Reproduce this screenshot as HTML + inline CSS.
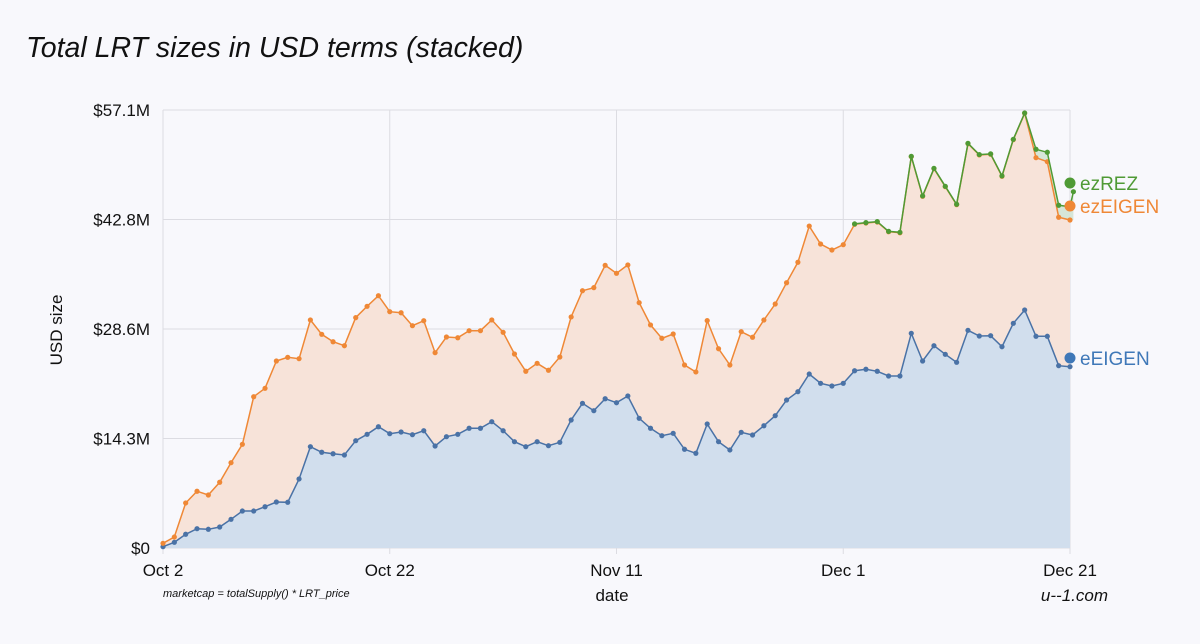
<!DOCTYPE html>
<html><head><meta charset="utf-8"><style>
body{margin:0;background:#f8f8fc;}
svg{display:block;font-family:"Liberation Sans",Arial,sans-serif;}
</style></head><body>
<svg id="c" width="1200" height="644">
<rect width="1200" height="644" fill="#f8f8fc"/>
<text x="26" y="57" font-size="28.5" font-style="italic" fill="#111">Total LRT sizes in USD terms (stacked)</text>
<g id="grid"></g>
<g id="areas"></g>
<g id="lines"></g>
<g id="axes"></g>
<text transform="translate(62,330) rotate(-90)" text-anchor="middle" font-size="17" fill="#111">USD size</text>
<text x="612" y="601" text-anchor="middle" font-size="17" fill="#111">date</text>
<text x="163" y="597" font-size="11" font-style="italic" fill="#111">marketcap = totalSupply() * LRT_price</text>
<text x="1108" y="601" text-anchor="end" font-size="17" font-style="italic" fill="#111">u--1.com</text>
</svg>
<script>
const yTicks=[0,14.275,28.55,42.825,57.1];
const yTickLabels=["$0","$14.3M","$28.6M","$42.8M","$57.1M"];
const xTickDays=[0,20,40,60,80];
const xTickLabels=["Oct 2","Oct 22","Nov 11","Dec 1","Dec 21"];
const eEIGEN=[0.17,0.74,1.79,2.52,2.44,2.74,3.74,4.82,4.82,5.38,6.00,5.96,9.00,13.21,12.48,12.29,12.12,13.99,14.82,15.81,14.90,15.12,14.77,15.29,13.30,14.51,14.82,15.61,15.61,16.47,15.29,13.86,13.21,13.86,13.34,13.78,16.69,18.86,17.90,19.46,18.94,19.82,16.91,15.61,14.64,14.95,12.87,12.35,16.17,13.86,12.78,15.08,14.73,15.94,17.25,19.29,20.38,22.68,21.47,21.12,21.47,23.11,23.30,23.04,22.42,22.42,27.99,24.38,26.37,25.25,24.21,28.38,27.64,27.68,26.24,29.29,31.03,27.60,27.60,23.77,23.64];
const ezEIGEN=[0.44,0.69,4.08,4.88,4.47,5.83,7.38,8.70,14.90,15.44,18.38,18.90,15.68,16.52,15.38,14.60,14.25,16.04,16.69,17.08,15.91,15.55,14.21,14.34,12.16,13.00,12.59,12.72,12.72,13.26,12.83,11.43,9.83,10.22,9.83,11.12,13.43,14.68,16.04,17.39,16.87,17.08,15.07,13.47,12.70,12.95,10.99,10.60,13.47,12.12,11.08,13.12,12.74,13.78,14.56,15.29,16.87,19.29,18.16,17.73,18.07,19.09,19.07,19.46,18.81,18.68,23.02,21.47,23.08,21.85,20.55,24.33,23.60,23.65,22.22,23.94,25.64,23.28,22.76,19.35,19.12];
const rezDays=[61,62,63,64,65,66,67,68,69,70,71,72,73,74,75,76,77,78,79,80,80.3];
const ezREZ=[0.05,0.05,0.05,0.05,0.05,0.05,0.05,0.05,0.05,0.05,0.05,0.05,0.05,0.05,0.05,0.05,1.10,1.23,1.56,1.73,3.69];

const NS="http://www.w3.org/2000/svg";
const X0=163,X1=1070,Y0=548,Y1=110,DAYS=80,YMAX=57.1;
const x=d=>X0+d*(X1-X0)/DAYS;
const y=v=>Y0-v*(Y0-Y1)/YMAX;
function mk(tag,parent,attrs){const e=document.createElementNS(NS,tag);for(const k in attrs)e.setAttribute(k,attrs[k]);parent.appendChild(e);return e;}
const grid=document.getElementById('grid'),areas=document.getElementById('areas'),lines=document.getElementById('lines'),axes=document.getElementById('axes');

yTicks.forEach((t,i)=>{
  const l=mk('line',grid,{x1:X0,x2:X1,y1:y(t),y2:y(t),stroke:'#dcdce2','stroke-width':1});
  
  
  const tx=mk('text',axes,{x:150,y:y(t)+6,'text-anchor':'end','font-size':17,fill:'#111'});
  tx.textContent=yTickLabels[i];
  
  
});
xTickDays.forEach((d,i)=>{
  const l=mk('line',grid,{x1:x(d),x2:x(d),y1:Y1,y2:Y0+6,stroke:'#dcdce2','stroke-width':1});
  
  
  const tx=mk('text',axes,{x:x(d),y:576,'text-anchor':'middle','font-size':17,fill:'#111'});
  tx.textContent=xTickLabels[i];
  
  
});

const days=eEIGEN.map((_,i)=>i);
const orangeTop=eEIGEN.map((v,i)=>v+ezEIGEN[i]);
function baseAt(d){return orangeTop[Math.min(Math.floor(d),orangeTop.length-1)];}
const rezTop=rezDays.map((d,i)=>baseAt(d)+ezREZ[i]);
const rezBase=rezDays.map(d=>baseAt(d));

function pts(ds,vs){return ds.map((d,i)=>x(d).toFixed(1)+','+y(vs[i]).toFixed(1));}
const aB=mk('polygon',areas,{points:pts(days,eEIGEN).concat([x(80)+','+Y0,X0+','+Y0]).join(' '),fill:'#d1deed'});


const aO=mk('polygon',areas,{points:pts(days,orangeTop).concat(pts(days,eEIGEN).reverse()).join(' '),fill:'#f7e3d9'});


const aG=mk('polygon',areas,{points:pts(rezDays,rezTop).concat(pts(rezDays,rezBase).reverse()).join(' '),fill:'#d6e6d8'});



function series(ds,vs,color,name){
  const p=mk('polyline',lines,{points:pts(ds,vs).join(' '),fill:'none',stroke:color,'stroke-width':1.5});
  
  
  ds.forEach((d,i)=>{
    const c=mk('circle',lines,{cx:x(d),cy:y(vs[i]),r:2.6,fill:color});
    
    
  });
}
series(days,eEIGEN,'#4a72a6','eeigen');
series(days,orangeTop,'#ef8836','ezeigen');
series(rezDays,rezTop,'#4f9a35','ezrez');

const legend=[['ezREZ','#4f9a35',183],['ezEIGEN','#ef8836',206],['eEIGEN','#3f78b8',358]];
legend.forEach(([t,c,yy])=>{
  const d=mk('circle',axes,{cx:1070,cy:yy,r:5.5,fill:c});
  
  
  const tx=mk('text',axes,{x:1080,y:yy+7,'font-size':19,fill:c});
  tx.textContent=t;
  
  
});
</script>
</body></html>
